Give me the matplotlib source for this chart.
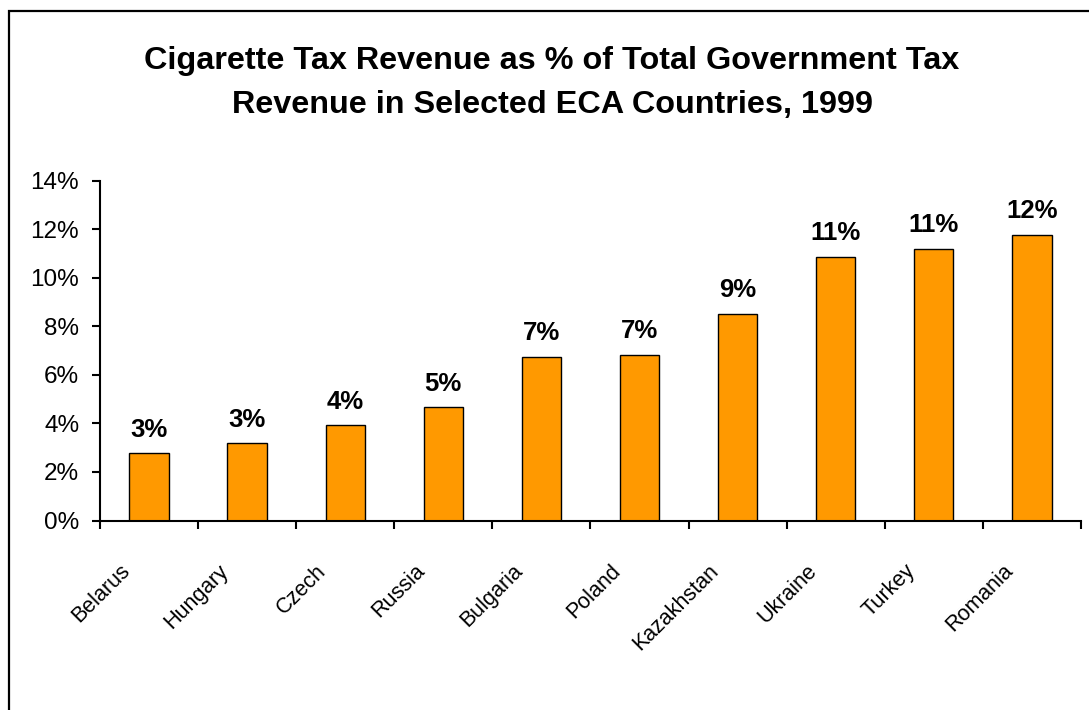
import matplotlib
matplotlib.use("Agg")
import matplotlib.pyplot as plt
import matplotlib.transforms as mtransforms
from matplotlib.patches import Rectangle
from matplotlib.ticker import FixedLocator, PercentFormatter
import numpy as np

plt.rcParams['font.family'] = ['Liberation Sans', 'DejaVu Sans']

# data
countries = ["Belarus", "Hungary", "Czech", "Russia", "Bulgaria",
             "Poland", "Kazakhstan", "Ukraine", "Turkey", "Romania"]
share = [2.77, 3.18, 3.93, 4.67, 6.74, 6.82, 8.52, 10.87, 11.20, 11.78]
labels = ["3%", "3%", "4%", "5%", "7%", "7%", "9%", "11%", "11%", "12%"]

fig = plt.figure(figsize=(10.89, 7.10), dpi=100)
ax = fig.add_axes([0.0918, 0.2669, 0.9008, 0.4782])

# outer frame of the chart area
fig.patches.append(Rectangle((8.5 / 1089, -0.05), 1.2, 1.05 - 10.5 / 710,
                             transform=fig.transFigure, fill=False,
                             edgecolor="black", linewidth=1.6, zorder=0))

x = np.arange(len(countries))
bars = ax.bar(x, share, width=0.4, color="#FF9900", edgecolor="black",
              linewidth=1.0, zorder=2)

for xi, v, lab in zip(x, share, labels):
    ax.annotate(lab, (xi, v), xytext=(0, 12), textcoords="offset points",
                ha="center", va="baseline", fontsize=18.5, fontweight="bold")

ax.set_xlim(-0.5, len(countries) - 0.5)
ax.set_ylim(0, 14)
ax.set_yticks(np.arange(0, 15, 2))
ax.yaxis.set_major_formatter(PercentFormatter(decimals=0))
ax.tick_params(axis="y", direction="out", length=6, width=1.5, pad=9,
               labelsize=17.5)

ax.set_xticks(x)
ax.set_xticklabels(countries, rotation=45, ha="right", va="center",
                   rotation_mode="anchor", fontsize=15.5)
ax.tick_params(axis="x", which="major", length=0, pad=34)
ax.xaxis.set_minor_locator(FixedLocator(np.arange(-0.5, len(countries), 1)))
ax.tick_params(axis="x", which="minor", direction="out", length=6, width=1.5)
shift = mtransforms.ScaledTranslation(-22 / 100, 0, fig.dpi_scale_trans)
for t in ax.get_xticklabels():
    t.set_transform(t.get_transform() + shift)

for s in ["top", "right"]:
    ax.spines[s].set_visible(False)
for s in ["left", "bottom"]:
    ax.spines[s].set_linewidth(1.5)

fig.text(0.507, 0.8835,
         "Cigarette Tax Revenue as % of Total Government Tax\n"
         "Revenue in Selected ECA Countries, 1999",
         ha="center", va="center", fontsize=23.3, fontweight="bold",
         linespacing=1.62)

fig.savefig("out.png", dpi=100)
